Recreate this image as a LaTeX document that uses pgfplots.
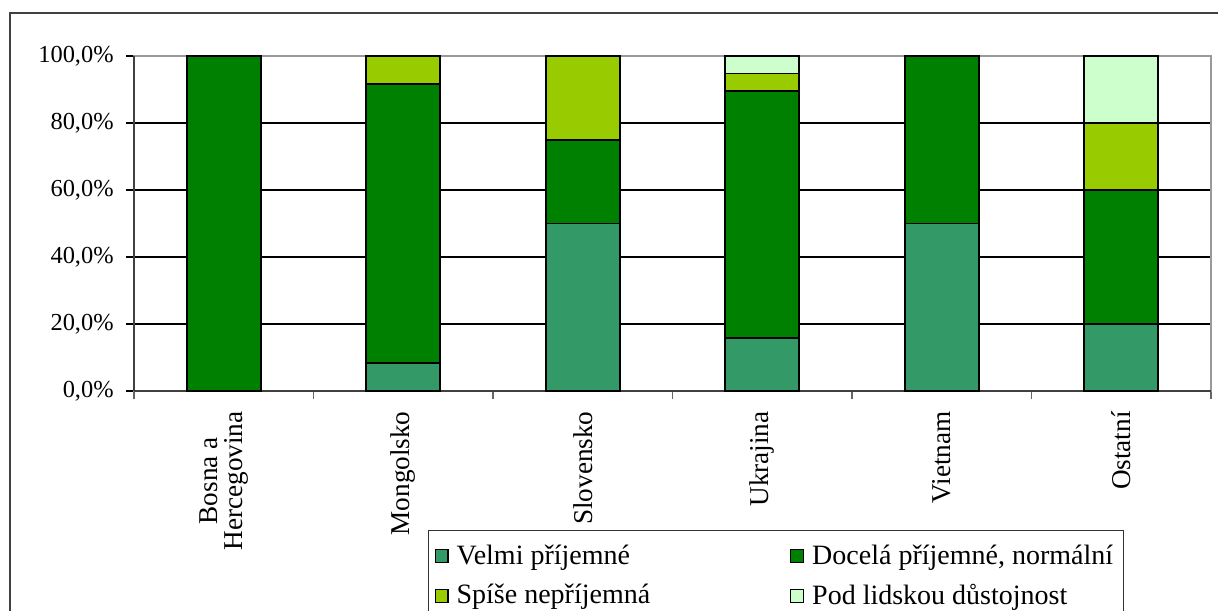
\documentclass[border=0pt]{standalone}
\usepackage{fontspec}
\setmainfont{Liberation Serif}
\usepackage{pgfplots}
\pgfplotsset{compat=1.18}
\definecolor{cVelmi}{HTML}{339966}
\definecolor{cDocela}{HTML}{008000}
\definecolor{cSpise}{HTML}{99CC00}
\definecolor{cPod}{HTML}{CCFFCC}
\begin{document}
\begin{tikzpicture}
\useasboundingbox (0pt,0pt) rectangle (609pt,305pt);
\clip (0pt,0pt) rectangle (609pt,305pt);
\draw[black!75, line width=0.8pt] (5pt,-20pt) rectangle (620pt,298.5pt);
\begin{axis}[
  at={(67pt,109.5pt)}, anchor=south west,
  scale only axis, width=538.5pt, height=167.5pt,
  ybar stacked, bar width=37pt,
  xmin=-0.5, xmax=5.5, ymin=0, ymax=100,
  xtick={-0.5,0.5,...,5.5},
  x tick label as interval,
  xticklabels={{Bosna a\\Hercegovina},Mongolsko,Slovensko,Ukrajina,Vietnam,Ostatní},
  xticklabel style={rotate=90, anchor=east, align=center, inner sep=0pt, font=\fontsize{13.6}{12.5}\selectfont},
  xticklabel shift=6pt,
  ytick={0,20,...,100},
  yticklabels={{0,0\%},{20,0\%},{40,0\%},{60,0\%},{80,0\%},{100,0\%}},
  yticklabel style={inner sep=0pt, font=\fontsize{12.2}{13}\selectfont},
  yticklabel shift=6pt,
  xtick pos=bottom, ytick pos=left,
  tick align=outside,
  major tick length=4pt,
  tick style={black, line width=0.6pt},
  x tick style={black!60},
  ymajorgrids, grid style={black, line width=0.6pt},
  axis line style={black!40, line width=0.8pt},
  clip=false,
  legend columns=2,
  legend cell align=left,
  legend style={at={(0.273,-0.415)}, anchor=north west, draw=black!80, line width=0.6pt,
    font=\fontsize{14}{15}\selectfont, inner xsep=3pt, inner ysep=5pt,
    /tikz/every odd column/.append style={column sep=2pt},
    /tikz/every even column/.append style={column sep=68pt},
    row sep=4.5pt},
  legend image code/.code={\draw[#1,draw=black,line width=0.6pt] (0pt,-3.2pt) rectangle (6.4pt,3.2pt);},
  every axis plot/.append style={draw=black, line width=0.8pt},
]
\addplot[fill=cVelmi] coordinates {(0,0) (1,8.33) (2,50) (3,15.79) (4,50) (5,20)};
\addplot[fill=cDocela] coordinates {(0,100) (1,83.33) (2,25) (3,73.68) (4,50) (5,40)};
\addplot[fill=cSpise] coordinates {(0,0) (1,8.33) (2,25) (3,5.26) (4,0) (5,20)};
\addplot[fill=cPod] coordinates {(0,0) (1,0) (2,0) (3,5.27) (4,0) (5,20)};
\legend{Velmi příjemné, {Docelá příjemné, normální}, Spíše nepříjemná, Pod lidskou důstojnost}
\draw[black!75, line width=0.8pt] (axis cs:-0.5,0) -- (axis cs:-0.5,100);
\draw[black!75, line width=0.8pt] (axis cs:-0.5,0) -- (axis cs:5.5,0);
\end{axis}
\end{tikzpicture}
\end{document}
